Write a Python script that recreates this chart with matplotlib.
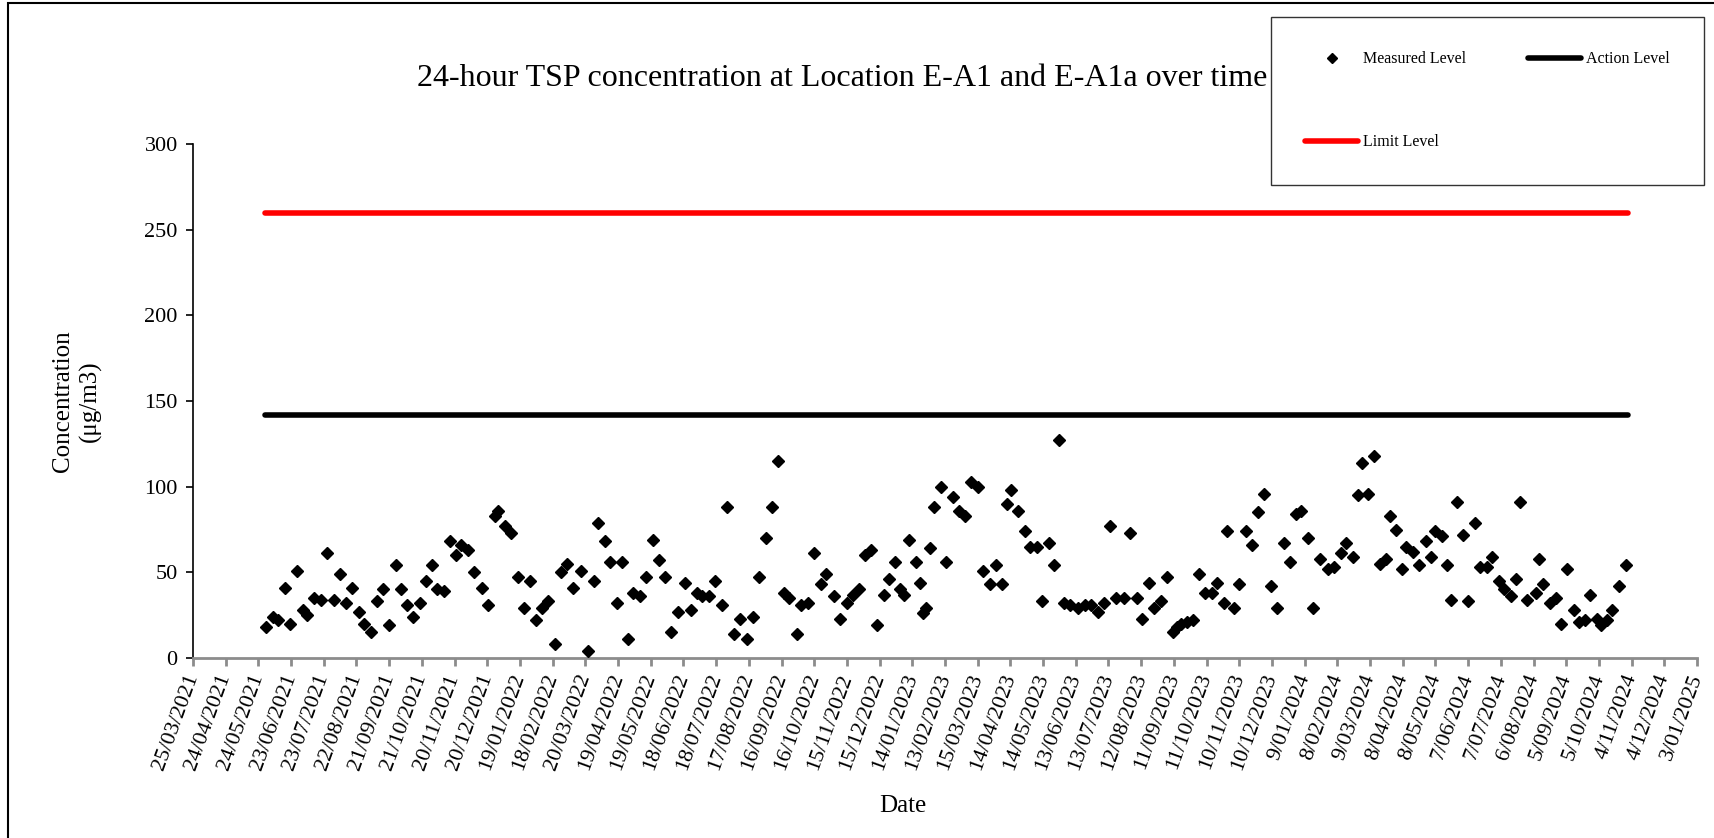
import matplotlib
matplotlib.use("Agg")
import matplotlib.pyplot as plt
import matplotlib.dates as mdates
from matplotlib.lines import Line2D
from matplotlib.patches import Rectangle
import pandas as pd
import numpy as np

plt.rcParams['font.family'] = ['Liberation Serif', 'DejaVu Serif']

# ---- data ----
start_date = "2021-03-25"
# sampling day offsets since 25/03/2021
day_offsets = [
    67, 73, 78, 84, 89, 95, 101, 105, 111, 117,
    123, 129, 135, 140, 146, 152, 157, 163, 169, 174,
    180, 186, 191, 196, 202, 208, 214, 219, 224, 230,
    236, 241, 246, 252, 258, 265, 271, 277, 280, 286,
    292, 298, 304, 309, 315, 320, 326, 332, 338, 343,
    349, 356, 362, 368, 372, 378, 383, 389, 394, 399,
    404, 410, 416, 422, 428, 433, 439, 445, 451, 457,
    462, 467, 473, 479, 485, 490, 496, 502, 508, 514,
    519, 526, 531, 537, 542, 547, 554, 558, 564, 570,
    576, 581, 588, 594, 600, 606, 611, 617, 622, 628,
    634, 639, 644, 649, 652, 657, 663, 667, 670, 673,
    676, 680, 686, 691, 697, 703, 708, 714, 720, 725,
    731, 737, 742, 747, 751, 757, 763, 768, 774, 779,
    785, 790, 795, 799, 805, 812, 818, 824, 830, 836,
    841, 847, 854, 860, 866, 871, 877, 882, 888, 894,
    899, 903, 907, 912, 918, 923, 929, 935, 940, 946,
    949, 955, 960, 966, 972, 977, 983, 989, 995, 1001,
    1007, 1012, 1017, 1023, 1028, 1034, 1041, 1047, 1053, 1058,
    1064, 1069, 1073, 1078, 1084, 1089, 1095, 1098, 1104, 1109,
    1113, 1119, 1125, 1131, 1136, 1140, 1146, 1151, 1154, 1160,
    1165, 1170, 1176, 1181, 1187, 1192, 1198, 1203, 1209, 1214,
    1218, 1224, 1232, 1235, 1239, 1245, 1251, 1255, 1261, 1267,
    1272, 1277, 1282, 1288, 1292, 1297, 1302, 1308, 1315,
]
measured = [
    18, 24, 22, 41, 20, 51, 28, 25, 35, 34,
    61, 34, 49, 32, 41, 27, 20, 15, 33, 40,
    19, 54, 40, 31, 24, 32, 45, 54, 40, 39,
    68, 60, 66, 63, 50, 41, 31, 83, 86, 77,
    73, 47, 29, 45, 22, 29, 33, 8, 50, 55,
    41, 51, 4, 45, 79, 68, 56, 32, 56, 11,
    38, 36, 47, 69, 57, 47, 15, 27, 44, 28,
    38, 36, 36, 45, 31, 88, 14, 23, 11, 24,
    47, 70, 88, 115, 38, 35, 14, 31, 32, 61,
    43, 49, 36, 23, 32, 37, 40, 60, 63, 19,
    37, 46, 56, 40, 37, 69, 56, 44, 26, 29,
    64, 88, 100, 56, 94, 86, 83, 103, 100, 51,
    43, 54, 43, 90, 98, 86, 74, 65, 65, 33,
    67, 54, 127, 32, 31, 29, 31, 31, 27, 32,
    77, 35, 35, 73, 35, 23, 44, 29, 33, 47,
    15, 18, 20, 21, 22, 49, 38, 38, 44, 32,
    74, 29, 43, 74, 66, 85, 96, 42, 29, 67,
    56, 84, 86, 70, 29, 58, 52, 53, 61, 67,
    59, 95, 114, 96, 118, 55, 58, 83, 75, 52,
    65, 62, 54, 68, 59, 74, 71, 54, 34, 91,
    72, 33, 79, 53, 53, 59, 45, 40, 36, 46,
    91, 34, 38, 58, 43, 32, 35, 20, 52, 28,
    21, 22, 37, 23, 19, 22, 28, 42, 54,
]
level_dates = ["2021-05-30", "2024-11-01"]
action_level = [142, 142]
limit_level = [260, 260]

tick_labels = [
    "25/03/2021", "24/04/2021", "24/05/2021", "23/06/2021", "23/07/2021",
    "22/08/2021", "21/09/2021", "21/10/2021", "20/11/2021", "20/12/2021",
    "19/01/2022", "18/02/2022", "20/03/2022", "19/04/2022", "19/05/2022",
    "18/06/2022", "18/07/2022", "17/08/2022", "16/09/2022", "16/10/2022",
    "15/11/2022", "15/12/2022", "14/01/2023", "13/02/2023", "15/03/2023",
    "14/04/2023", "14/05/2023", "13/06/2023", "13/07/2023", "12/08/2023",
    "11/09/2023", "11/10/2023", "10/11/2023", "10/12/2023", "9/01/2024",
    "8/02/2024", "9/03/2024", "8/04/2024", "8/05/2024", "7/06/2024",
    "7/07/2024", "6/08/2024", "5/09/2024", "5/10/2024", "4/11/2024",
    "4/12/2024", "3/01/2025",
]
y_ticks = [0, 50, 100, 150, 200, 250, 300]

# ---- build ----
dates = pd.Timestamp(start_date) + pd.to_timedelta(day_offsets, unit="D")
tick_dates = pd.to_datetime(tick_labels, format="%d/%m/%Y")
lv_dates = pd.to_datetime(level_dates)

W, H = 1715, 838
fig = plt.figure(figsize=(W / 100, H / 100), dpi=100)
ax = fig.add_axes([193 / W, 1 - 658 / H, (1697 - 193) / W, (658 - 144) / H])

ax.plot(dates, measured, linestyle="none", marker="D", markersize=6.5,
        color="black", label="Measured Level", zorder=3)
ax.plot(lv_dates, action_level, color="black", linewidth=4,
        solid_capstyle="round", label="Action Level", zorder=2)
ax.plot(lv_dates, limit_level, color="#ff0000", linewidth=4,
        solid_capstyle="round", label="Limit Level", zorder=2)

ax.set_xlim(tick_dates[0], tick_dates[-1])
ax.set_ylim(0, 300)
ax.set_xticks(tick_dates)
ax.set_xticklabels(tick_labels, rotation=70, ha="right", va="center",
                   rotation_mode="anchor", fontsize=16)
ax.set_yticks(y_ticks)
ax.set_yticklabels([str(v) for v in y_ticks], fontsize=16)

for s in ("top", "right"):
    ax.spines[s].set_visible(False)
ax.spines["left"].set_color("black")
ax.spines["left"].set_linewidth(1.2)
ax.spines["bottom"].set_color("#8c8c8c")
ax.spines["bottom"].set_linewidth(2)
ax.tick_params(axis="y", direction="out", length=5, width=1.2, color="black", pad=6)
ax.tick_params(axis="x", direction="out", length=6, width=2, color="#8c8c8c", pad=6)

fig.text(842 / W, 1 - 79 / H,
         "24-hour TSP concentration at Location E-A1 and E-A1a over time",
         ha="center", va="center", fontsize=23)
fig.text(77 / W, 1 - 401 / H, "Concentration\n(μg/m3)", rotation=90,
         ha="center", va="center", fontsize=18, linespacing=1.3)
fig.text(903 / W, 1 - 806 / H, "Date", ha="center", va="center", fontsize=18)

h_meas = Line2D([], [], linestyle="none", marker="D", markersize=5, color="black")
h_act = Line2D([], [], color="black", linewidth=4, solid_capstyle="round")
h_lim = Line2D([], [], color="#ff0000", linewidth=4, solid_capstyle="round")
leg = fig.legend([h_meas, h_lim, h_act], ["Measured Level", "Limit Level", "Action Level"],
                 ncol=2, loc="upper left", bbox_to_anchor=(1271 / W, 1 - 17 / H),
                 bbox_transform=fig.transFigure, fontsize=11.5, frameon=True,
                 fancybox=False, edgecolor="black", handlelength=3.3,
                 handletextpad=0.3, columnspacing=3.9, labelspacing=4.2,
                 borderpad=2.15, borderaxespad=0)
leg.get_frame().set_linewidth(1.0)

# outer chart-area border (left and top visible in the reference)
fig.add_artist(Rectangle((8 / W, -0.1), 1.2, (H - 3) / H + 0.1,
                         transform=fig.transFigure, fill=False,
                         edgecolor="black", linewidth=1.5))

fig.savefig("out.png", dpi=100)
